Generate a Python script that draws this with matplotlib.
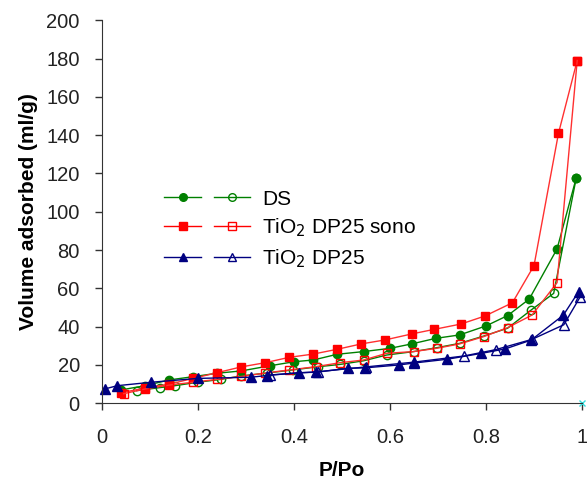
import matplotlib
matplotlib.use("Agg")
import matplotlib.pyplot as plt
from matplotlib.legend_handler import HandlerTuple
from matplotlib.lines import Line2D

plt.rcParams['font.family'] = ['Liberation Sans', 'DejaVu Sans']

# DS
ds_ads_x = [0.04, 0.09, 0.14, 0.19, 0.24, 0.29, 0.35, 0.40, 0.44, 0.49, 0.545, 0.60, 0.645, 0.695, 0.745, 0.80, 0.845, 0.89, 0.948, 0.988]
ds_ads_y = [7, 9.2, 12.2, 13.9, 15.7, 16.9, 19.6, 21.7, 22.6, 25.6, 27, 28.7, 31, 33.9, 35.7, 40.4, 45.8, 54.4, 80.6, 117.7]
ds_des_x = [0.988, 0.941, 0.894, 0.845, 0.795, 0.745, 0.697, 0.649, 0.593, 0.545, 0.496, 0.451, 0.397, 0.344, 0.29, 0.248, 0.20, 0.152, 0.121, 0.072]
ds_des_y = [117.7, 57.4, 48.7, 39.2, 35.1, 31.3, 29, 27, 25.2, 22.2, 20.3, 19.1, 17.4, 15.8, 14.3, 12.5, 11.0, 9.2, 8.2, 6.6]

# TiO2 DP25 sono
sono_ads_x = [0.04, 0.09, 0.14, 0.19, 0.24, 0.29, 0.34, 0.39, 0.44, 0.49, 0.54, 0.59, 0.645, 0.692, 0.748, 0.798, 0.855, 0.90, 0.951, 0.990]
sono_ads_y = [5.5, 8, 10, 13, 16, 19, 21.2, 24, 25.7, 28.2, 31, 33.1, 36.2, 38.6, 41.4, 45.6, 52.5, 71.9, 141, 179]
sono_des_x = [0.990, 0.948, 0.896, 0.845, 0.795, 0.745, 0.697, 0.649, 0.593, 0.545, 0.496, 0.445, 0.39, 0.34, 0.29, 0.24, 0.19, 0.14, 0.09, 0.045]
sono_des_y = [179, 63, 46.1, 39.5, 34.8, 31, 28.7, 27, 26.1, 22.6, 21.2, 19.1, 17.4, 15.8, 14.0, 12.5, 11.0, 9.5, 7.5, 5.0]

# TiO2 DP25
dp_ads_x = [0.006, 0.032, 0.103, 0.20, 0.31, 0.343, 0.41, 0.446, 0.513, 0.548, 0.618, 0.649, 0.719, 0.789, 0.84, 0.894, 0.961, 0.993]
dp_ads_y = [7.5, 9.2, 11, 13, 13.6, 14.5, 16, 16.2, 18.3, 18.5, 20, 21, 23, 26, 28.4, 33, 46, 58.3]
dp_des_x = [0.996, 0.962, 0.896, 0.82, 0.754, 0.65, 0.55, 0.45, 0.35]
dp_des_y = [55.5, 41, 33.4, 28, 24.7, 21.5, 19, 16.5, 14.8]

labels = ["DS", "TiO$_2$ DP25 sono", "TiO$_2$ DP25"]
xticks = [0, 0.2, 0.4, 0.6, 0.8, 1]
xticklabels = ["0", "0.2", "0.4", "0.6", "0.8", "1"]
yticks = list(range(0, 201, 20))

green = "#008000"
red = "#ff0000"
navy = "#000080"

fig = plt.figure(figsize=(5.87, 4.82), dpi=100)
ax = fig.add_axes([0.1738, 0.1633, 0.8177, 0.7946])

ms = 6
kw = dict(lw=1.0, clip_on=False)
ax.plot(ds_ads_x, ds_ads_y, color=green, marker='o', ms=ms, mfc=green, mec=green, **kw)
ax.plot(ds_des_x, ds_des_y, color=green, marker='o', ms=ms, mfc='none', mec=green, **kw)
ax.plot(sono_ads_x, sono_ads_y, color="#ff3030", marker='s', ms=ms, mfc=red, mec=red, **kw)
ax.plot(sono_des_x, sono_des_y, color="#ff3030", marker='s', ms=ms, mfc='none', mec=red, **kw)
ax.plot(dp_ads_x, dp_ads_y, color=navy, marker='^', ms=ms + 1, mfc=navy, mec=navy, **kw)
ax.plot(dp_des_x, dp_des_y, color=navy, marker='^', ms=ms + 1, mfc='none', mec=navy, **kw)
ax.plot([1.0], [0], marker='x', color='#33dddd', ms=5, lw=0, clip_on=False)

def h(color, marker, filled):
    return Line2D([], [], color=color, lw=1.0, marker=marker, ms=5.5,
                  mfc=color if filled else 'none', mec=color)

handles = [(h(green, 'o', True), h(green, 'o', False)),
           (h(red, 's', True), h(red, 's', False)),
           (h(navy, '^', True), h(navy, '^', False))]
ax.legend(handles, labels, handler_map={tuple: HandlerTuple(ndivide=2, pad=0.63)},
          loc='upper left', bbox_to_anchor=(0.108, 0.585), frameon=False, borderpad=0,
          fontsize=15, handlelength=4.13, handletextpad=0.58, labelspacing=0.38)

ax.set_xlim(0, 1)
ax.set_ylim(0, 200)
ax.set_xticks(xticks)
ax.set_xticklabels(xticklabels)
ax.set_yticks(yticks)
ax.tick_params(axis='both', labelsize=14.5, length=5, width=1, colors='#333333', labelcolor='#222222')
ax.tick_params(axis='x', pad=13)
ax.tick_params(axis='y', pad=11)
for s in ['top', 'right']:
    ax.spines[s].set_visible(False)
for s in ['left', 'bottom']:
    ax.spines[s].set_color('#333333')
ax.set_xlabel("P/Po", fontsize=15, fontweight='bold', labelpad=10)
ax.set_ylabel("Volume adsorbed (ml/g)", fontsize=15, fontweight='bold', labelpad=6)

fig.savefig("out.png", dpi=100)
